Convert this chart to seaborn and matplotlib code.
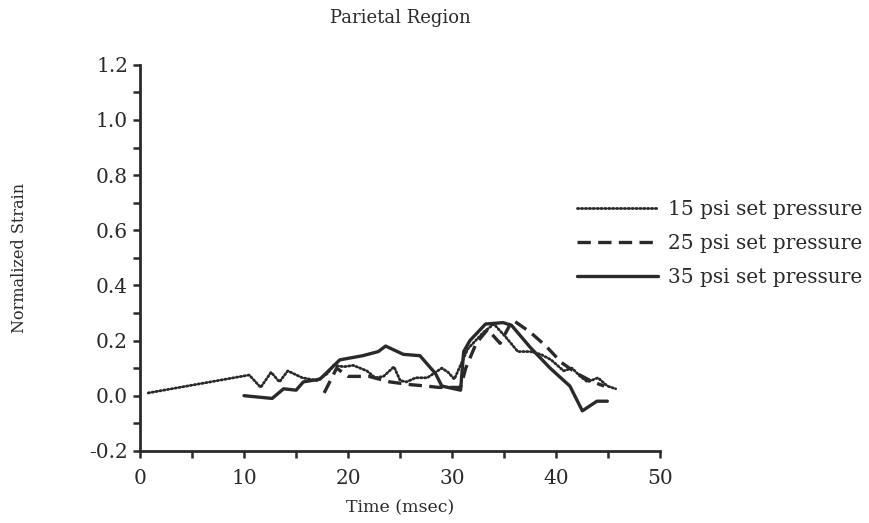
import seaborn as sns
import matplotlib.pyplot as plt
from matplotlib.ticker import MultipleLocator, FormatStrFormatter

# 15 psi set pressure (dotted)
t15 = [0.8, 10.5, 11.6, 12.6, 13.4, 14.2, 15.6, 17.0, 18.0, 18.6, 19.6, 20.5, 21.8, 22.6, 23.4,
       24.4, 25.0, 25.6, 26.5, 27.6, 29.0, 29.6, 30.2, 31.5, 33.0, 34.0, 35.2, 36.3, 37.5, 38.5,
       39.5, 40.7, 41.5, 42.3, 43.0, 44.0, 44.9, 45.7]
s15 = [0.01, 0.075, 0.03, 0.085, 0.05, 0.09, 0.065, 0.055, 0.08, 0.11, 0.105, 0.11, 0.09, 0.065, 0.07,
       0.105, 0.055, 0.05, 0.065, 0.065, 0.1, 0.085, 0.06, 0.17, 0.23, 0.26, 0.21, 0.16, 0.16, 0.15,
       0.13, 0.09, 0.10, 0.07, 0.05, 0.065, 0.035, 0.025]

# 25 psi set pressure (dashed)
t25 = [17.7, 18.9, 20.0, 22.0, 24.0, 26.0, 27.5, 28.7, 30.0, 30.8, 31.3, 32.3, 33.4, 34.6, 35.8,
       37.5, 39.0, 40.5, 42.0, 43.5, 44.6]
s25 = [0.01, 0.10, 0.07, 0.07, 0.05, 0.04, 0.035, 0.03, 0.03, 0.03, 0.10, 0.19, 0.24, 0.19, 0.275,
       0.23, 0.18, 0.12, 0.08, 0.05, 0.035]

# 35 psi set pressure (solid)
t35 = [10.0, 12.7, 13.8, 15.0, 15.7, 17.3, 19.2, 21.4, 22.9, 23.6, 25.3, 26.9, 28.4, 29.0, 30.8,
       31.1, 31.7, 33.2, 34.9, 35.7, 37.5, 39.4, 41.3, 42.5, 43.9, 44.9]
s35 = [0.0, -0.01, 0.025, 0.02, 0.05, 0.06, 0.13, 0.145, 0.16, 0.18, 0.15, 0.145, 0.08, 0.035, 0.02,
       0.16, 0.2, 0.26, 0.265, 0.255, 0.175, 0.1, 0.035, -0.055, -0.02, -0.02]

sns.set_style("ticks")
plt.rcParams['font.family'] = ['DejaVu Serif']

fig = plt.figure(figsize=(8.69, 5.23), dpi=100)
ax = fig.add_axes([0.161, 0.138, 0.599, 0.738])

ink = '#2a2a2a'
sns.lineplot(x=t15, y=s15, ax=ax, color=ink, lw=2.0, linestyle=(0, (0.5, 0.9)),
             dash_capstyle='round', label='15 psi set pressure')
sns.lineplot(x=t25, y=s25, ax=ax, color=ink, lw=2.4, linestyle=(0, (4, 2.2)),
             label='25 psi set pressure')
sns.lineplot(x=t35, y=s35, ax=ax, color=ink, lw=2.4, linestyle='-',
             label='35 psi set pressure')

ax.xaxis.set_major_locator(MultipleLocator(10))
ax.xaxis.set_minor_locator(MultipleLocator(5))
ax.yaxis.set_major_locator(MultipleLocator(0.2))
ax.yaxis.set_minor_locator(MultipleLocator(0.1))
ax.yaxis.set_major_formatter(FormatStrFormatter('%.1f'))
ax.set_xlim(0, 50)
ax.set_ylim(-0.2, 1.2)
ax.tick_params(which='both', direction='out', length=5, width=1.8, colors=ink, labelsize=14.5)
ax.tick_params(axis='x', pad=8)
for side in ['top', 'right']:
    ax.spines[side].set_visible(False)
for side in ['left', 'bottom']:
    ax.spines[side].set_linewidth(2)
    ax.spines[side].set_color(ink)

ax.set_xlabel("Time (msec)", fontsize=12.5, color=ink, labelpad=8)
ax.set_ylabel("Normalized Strain", fontsize=11.5, color=ink, labelpad=44)
ax.set_title("Parietal Region", fontsize=13, color=ink, pad=30)

ax.legend(loc='center left', bbox_to_anchor=(0.655, 0.535), bbox_transform=fig.transFigure,
          borderaxespad=0, frameon=False, fontsize=14.5, handlelength=4.0, handletextpad=0.5,
          labelspacing=0.75, labelcolor=ink)

plt.savefig("out.png", dpi=100)
